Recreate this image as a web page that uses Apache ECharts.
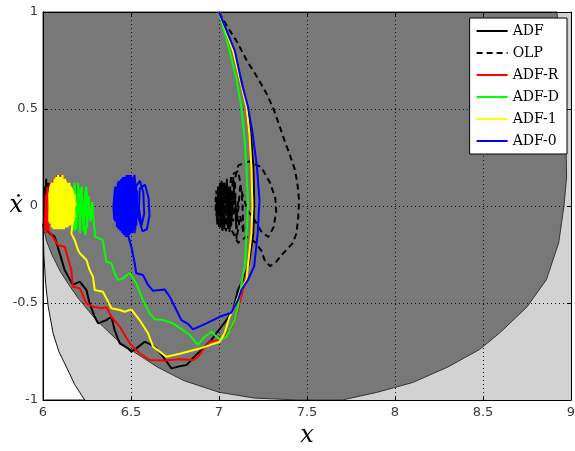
<!DOCTYPE html>
<html>
<head>
<meta charset="utf-8">
<script src="https://cdn.jsdelivr.net/npm/echarts@6/dist/echarts.min.js"></script>
<style>
  html, body { margin: 0; padding: 0; background: #fff; }
  #chart { width: 575px; height: 451px; }
</style>
</head>
<body>
<div id="chart"></div>
<script>
// axis ticks
var xTicks = [6, 6.5, 7, 7.5, 8, 8.5, 9];
var yTicks = [-1, -0.5, 0, 0.5, 1];
var seriesNames = ['ADF', 'OLP', 'ADF-R', 'ADF-D', 'ADF-1', 'ADF-0'];

// shaded regions (boundaries)
var regionDark = [[6.0,1.0],[6.0,-0.10],[6.02,-0.18],[6.05,-0.25],[6.1,-0.34],[6.15,-0.41],[6.2,-0.475],
  [6.3,-0.585],[6.42,-0.69],[6.5,-0.742],[6.65,-0.83],[6.8,-0.90],[7.0,-0.96],[7.2,-0.99],[7.45,-1.0],
  [7.7,-1.0],[7.9,-0.96],[8.1,-0.91],[8.3,-0.83],[8.48,-0.74],[8.6,-0.65],[8.75,-0.52],[8.86,-0.38],
  [8.93,-0.19],[8.96,0.0],[8.975,0.15],[8.97,0.4],[8.95,0.7],[8.92,1.0]];
var regionWhite = [[6.0,-0.09],[6.005,-0.25],[6.015,-0.4],[6.03,-0.52],[6.057,-0.655],[6.09,-0.75],
  [6.133,-0.83],[6.18,-0.92],[6.237,-1.0],[6.0,-1.0]];

// trajectories
var adf = [[7.0,1.0],[7.085,0.80],[7.13,0.63],[7.16,0.51],[7.18,0.38],[7.195,0.20],[7.2,0.03],[7.195,-0.14],
  [7.17,-0.30],[7.136,-0.381],[7.108,-0.433],[7.08,-0.536],[7.042,-0.588],[6.985,-0.656],[6.957,-0.69],
  [6.909,-0.734],[6.852,-0.785],[6.815,-0.82],[6.767,-0.828],[6.73,-0.837],[6.682,-0.777],[6.644,-0.734],
  [6.606,-0.711],[6.578,-0.70],[6.53,-0.734],[6.502,-0.751],[6.483,-0.734],[6.436,-0.708],[6.407,-0.64],
  [6.389,-0.571],[6.36,-0.588],[6.313,-0.605],[6.294,-0.571],[6.265,-0.502],[6.247,-0.433],[6.209,-0.39],
  [6.17,-0.407],[6.123,-0.33],[6.095,-0.244],[6.066,-0.158],[6.038,-0.141],[6.01,-0.115],
  [6.005,0.05],[6.012,-0.08],[6.018,0.14],[6.024,-0.06],[6.03,0.12],[6.02,-0.1],[6.008,0.1],[6.015,-0.03]];

var olp = [[7.0,1.0],[7.05,0.92],[7.1,0.85],[7.156,0.753],[7.22,0.66],[7.27,0.58],[7.31,0.50],[7.345,0.41],
  [7.375,0.33],[7.40,0.27],[7.43,0.19],[7.445,0.12],[7.455,0.03],[7.45,-0.06],[7.44,-0.14],[7.42,-0.19],
  [7.39,-0.22],[7.364,-0.244],[7.326,-0.287],[7.29,-0.31],[7.26,-0.28],[7.24,-0.23],[7.21,-0.19],
  [7.156,-0.158],[7.108,-0.19],[7.07,-0.12],[7.06,0.0],[7.08,0.1],[7.11,0.21],[7.17,0.23],[7.24,0.2],
  [7.29,0.12],[7.32,0.04],[7.325,-0.03],[7.31,-0.11],[7.28,-0.16],[7.24,-0.13],[7.2,-0.07],
  [7.16,-0.02],[7.12,0.1],[7.1,-0.12],[7.08,0.15],[7.06,-0.1],[7.04,0.12],[7.02,-0.09],[7.0,0.1],
  [6.985,-0.05],[6.98,0.04],[6.99,-0.08],[7.0,0.07],[7.01,-0.1],[7.02,0.09],[7.03,-0.11],[7.04,0.08],
  [7.05,-0.12],[7.06,0.1],[7.07,-0.08],[7.09,0.13],[7.1,-0.17],[7.12,-0.05],[7.14,-0.14],[7.13,0.06],
  [7.11,0.18],[7.07,0.16],[7.05,-0.06],[7.03,0.13],[7.015,-0.05],[6.995,0.06],[6.99,-0.02],[7.01,0.04],
  [7.03,-0.04],[7.05,0.05],[7.07,0.0],
  [6.98,-0.02],[6.985,0.08],[6.99,-0.1],[6.995,0.1],[7.0,-0.11],[7.005,0.12],[7.01,-0.12],[7.015,0.13],
  [7.02,-0.13],[7.025,0.12],[7.03,-0.12],[7.035,0.11],[7.04,-0.13],[7.045,0.14],[7.05,-0.1],[7.055,0.1],
  [7.06,-0.14],[7.065,0.08],[7.07,-0.1],[7.075,0.06],[7.08,-0.08],[7.09,0.05],[7.1,-0.06],[7.11,0.03]];

var adfR = [[7.0,1.0],[7.08,0.80],[7.125,0.63],[7.156,0.51],[7.172,0.38],[7.184,0.20],[7.19,0.0],[7.184,-0.14],
  [7.165,-0.30],[7.14,-0.42],[7.1,-0.56],[7.07,-0.63],[7.014,-0.687],[6.947,-0.70],[6.909,-0.742],
  [6.881,-0.777],[6.852,-0.794],[6.777,-0.79],[6.701,-0.797],[6.606,-0.794],[6.549,-0.759],[6.493,-0.708],
  [6.436,-0.622],[6.389,-0.571],[6.36,-0.522],[6.332,-0.527],[6.284,-0.519],[6.247,-0.502],[6.209,-0.424],
  [6.17,-0.416],[6.161,-0.33],[6.123,-0.21],[6.085,-0.201],[6.019,-0.107],
  [6.01,-0.12],[6.015,0.06],[6.02,-0.14],[6.025,0.1],[6.03,-0.12],[6.04,0.12],[6.05,-0.1],[6.06,0.14],
  [6.07,-0.06],[6.08,0.16],[6.09,0.0],[6.10,0.16],[6.11,0.02],[6.095,0.13],[6.06,-0.1],[6.03,0.09],
  [6.02,-0.1],[6.015,0.02]];

var adfD = [[7.0,1.0],[7.06,0.80],[7.10,0.65],[7.127,0.51],[7.145,0.35],[7.156,0.20],[7.165,0.0],[7.156,-0.15],
  [7.146,-0.31],[7.127,-0.40],[7.108,-0.519],[7.089,-0.588],[7.042,-0.674],[7.004,-0.69],[6.957,-0.648],
  [6.919,-0.674],[6.88,-0.716],[6.834,-0.665],[6.795,-0.64],[6.739,-0.605],[6.682,-0.588],[6.635,-0.584],
  [6.606,-0.553],[6.568,-0.485],[6.53,-0.399],[6.493,-0.344],[6.455,-0.373],[6.426,-0.381],[6.407,-0.347],
  [6.389,-0.295],[6.36,-0.287],[6.35,-0.235],[6.34,-0.175],[6.294,-0.158],[6.294,-0.124],
  [6.29,-0.10],[6.28,0.02],[6.27,-0.08],[6.26,0.05],[6.25,-0.11],[6.24,0.08],[6.23,-0.13],[6.22,0.10],
  [6.21,-0.14],[6.20,0.12],[6.19,-0.12],[6.18,0.12],[6.16,-0.10],[6.14,0.11],[6.12,-0.08],[6.15,0.06],
  [6.18,-0.13],[6.21,0.09],[6.24,-0.15],[6.26,-0.02],[6.245,0.1],[6.23,-0.06]];

var adf1 = [[7.0,1.0],[7.08,0.80],[7.125,0.63],[7.156,0.51],[7.172,0.38],[7.184,0.20],[7.19,0.0],[7.184,-0.14],
  [7.165,-0.30],[7.156,-0.38],[7.117,-0.45],[7.089,-0.519],[7.06,-0.571],[7.032,-0.656],[7.004,-0.70],
  [6.89,-0.735],[6.777,-0.762],[6.701,-0.777],[6.625,-0.725],[6.597,-0.656],[6.549,-0.588],[6.502,-0.533],
  [6.464,-0.545],[6.436,-0.536],[6.389,-0.527],[6.36,-0.476],[6.34,-0.442],[6.294,-0.433],[6.284,-0.364],
  [6.265,-0.33],[6.247,-0.278],[6.209,-0.244],[6.199,-0.227],[6.18,-0.175],[6.161,-0.141],
  [6.17,-0.08],[6.18,0.06],[6.175,-0.08],[6.165,0.09],[6.155,-0.10],[6.145,0.11],[6.135,-0.11],
  [6.125,0.13],[6.115,-0.12],[6.105,0.14],[6.095,-0.12],[6.085,0.15],[6.075,-0.12],[6.065,0.13],
  [6.055,-0.11],[6.045,0.08],[6.035,-0.08],[6.04,0.10],[6.06,-0.11],[6.08,0.13],[6.10,-0.12],[6.12,0.14],
  [6.14,-0.11],[6.16,0.10],[6.18,-0.06],[6.17,0.08],[6.16,-0.09],[6.15,0.12],[6.14,-0.10],[6.13,0.13],
  [6.12,-0.12],[6.11,0.16],[6.10,-0.11],[6.09,0.15],[6.08,-0.12],[6.07,0.14],[6.06,-0.10],[6.05,0.12],
  [6.035,0.06],[6.04,-0.09],[6.045,0.11],[6.05,-0.11],[6.055,0.12],[6.06,-0.12],[6.065,0.14],[6.07,-0.12],
  [6.075,0.15],[6.08,-0.12],[6.085,0.16],[6.09,-0.12],[6.095,0.15],[6.10,-0.12],[6.105,0.15],[6.11,-0.12],
  [6.115,0.14],[6.12,-0.11],[6.125,0.14],[6.13,-0.11],[6.135,0.12],[6.14,-0.1],[6.145,0.12],[6.15,-0.1],
  [6.155,0.1],[6.16,-0.08],[6.165,0.08],[6.17,-0.06],[6.175,0.05],[6.185,0.0]];

var adf0 = [[7.0,1.0],[7.09,0.80],[7.13,0.63],[7.165,0.51],[7.19,0.38],[7.216,0.20],[7.23,0.03],[7.22,-0.14],
  [7.2,-0.31],[7.165,-0.38],[7.127,-0.433],[7.108,-0.485],[7.07,-0.55],[7.004,-0.571],[6.928,-0.605],
  [6.852,-0.636],[6.824,-0.608],[6.786,-0.588],[6.758,-0.536],[6.72,-0.467],[6.691,-0.43],[6.625,-0.437],
  [6.597,-0.407],[6.568,-0.356],[6.53,-0.347],[6.521,-0.295],[6.502,-0.21],[6.483,-0.15],
  [6.49,-0.15],[6.50,0.14],[6.51,-0.13],[6.52,0.12],[6.53,-0.1],[6.535,0.08],[6.52,-0.14],[6.50,0.16],
  [6.48,-0.15],[6.47,0.15],[6.46,-0.13],[6.45,0.14],[6.44,-0.12],[6.43,0.13],[6.42,-0.10],[6.41,0.10],
  [6.40,0.0],[6.405,-0.07],[6.415,0.08],[6.425,-0.11],[6.435,0.12],[6.445,-0.13],[6.455,0.13],
  [6.465,-0.14],[6.475,0.15],[6.485,-0.15],[6.495,0.15],[6.505,-0.14],[6.515,0.13],[6.525,-0.12],
  [6.53,0.10],[6.55,0.13],[6.57,0.07],[6.575,-0.04],[6.56,-0.10],[6.545,-0.01],[6.55,0.09],[6.58,0.11],
  [6.60,0.04],[6.605,-0.05],[6.59,-0.12],[6.565,-0.13],[6.54,-0.05],[6.52,0.16],[6.5,0.1],
  [6.405,0.04],[6.41,-0.08],[6.415,0.10],[6.42,-0.11],[6.425,0.12],[6.43,-0.12],[6.435,0.13],[6.44,-0.13],
  [6.445,0.14],[6.45,-0.14],[6.455,0.15],[6.46,-0.15],[6.465,0.15],[6.47,-0.16],[6.475,0.16],[6.48,-0.16],
  [6.485,0.16],[6.49,-0.15],[6.495,0.16],[6.50,-0.14],[6.505,0.15],[6.51,-0.13],[6.515,0.14],[6.52,-0.12],
  [6.525,0.12],[6.53,-0.09],[6.535,0.06]];

var chart = echarts.init(document.getElementById('chart'));

// 区域多边形
function regionSeries(points, fill, stroke) {
    return {
        type: 'custom',
        silent: true,
        z: 1,
        data: [[6, 1]],
        renderItem: function (params, api) {
            return {
                type: 'polygon',
                shape: { points: points.map(function (p) { return api.coord(p); }) },
                style: { fill: fill, stroke: stroke, lineWidth: 1 }
            };
        }
    };
}

function lineSeries(name, data, color, dashed) {
    return {
        name: name,
        type: 'line',
        data: data,
        z: 3,
        symbol: 'none',
        showSymbol: false,
        clip: true,
        lineStyle: { color: color, width: 2, type: dashed ? [6, 4] : 'solid' },
        itemStyle: { color: color }
    };
}

var tickStyle = { inside: true, length: 4, lineStyle: { color: '#000' } };
var lineAxis = { onZero: false, lineStyle: { color: '#000', width: 1 } };
var gridDots = { show: true, lineStyle: { color: '#111', width: 1, type: [1, 3] } };
var labelStyle = { color: '#3a3a3a', fontSize: 13, fontFamily: 'DejaVu Sans' };
var nameStyle = { fontFamily: 'DejaVu Serif', fontStyle: 'italic', fontSize: 24, color: '#000' };

var option = {
    animation: false,
    grid: {
        left: 43, right: 4, top: 12, bottom: 51,
        containLabel: false, outerBoundsMode: 'none',
        show: true, backgroundColor: '#d2d2d2', borderWidth: 0
    },
    legend: {
        data: seriesNames,
        orient: 'vertical',
        right: 8,
        top: 18,
        backgroundColor: '#fff',
        borderColor: '#000',
        borderWidth: 1,
        borderRadius: 0,
        padding: [6, 8, 6, 6],
        itemWidth: 31,
        itemHeight: 14,
        itemGap: 8,
        itemStyle: { opacity: 0 },
        textStyle: { fontFamily: 'DejaVu Serif', fontSize: 14, color: '#000' }
    },
    xAxis: [{
        type: 'value', min: xTicks[0], max: xTicks[xTicks.length - 1], interval: 0.5, position: 'bottom', z: 2,
        axisLine: lineAxis, axisTick: tickStyle, axisLabel: Object.assign({ margin: 6 }, labelStyle),
        splitLine: gridDots,
        name: 'x', nameLocation: 'middle', nameGap: 24, nameMoveOverlap: false,
        nameTextStyle: nameStyle
    }, {
        type: 'value', min: xTicks[0], max: xTicks[xTicks.length - 1], interval: 0.5, position: 'top', z: 2,
        axisLine: lineAxis, axisTick: tickStyle, axisLabel: { show: false }, splitLine: { show: false }
    }],
    yAxis: [{
        type: 'value', min: yTicks[0], max: yTicks[yTicks.length - 1], interval: 0.5, position: 'left', z: 2,
        axisLine: lineAxis, axisTick: tickStyle, axisLabel: Object.assign({ margin: 5 }, labelStyle),
        splitLine: gridDots,
        name: 'ẋ', nameLocation: 'middle', nameGap: 20, nameRotate: 0, nameMoveOverlap: false,
        nameTextStyle: nameStyle
    }, {
        type: 'value', min: yTicks[0], max: yTicks[yTicks.length - 1], interval: 0.5, position: 'right', z: 2,
        axisLine: lineAxis, axisTick: tickStyle, axisLabel: { show: false }, splitLine: { show: false }
    }],
    series: [
        regionSeries(regionDark, '#787878', '#333'),
        regionSeries(regionWhite, '#ffffff', '#111'),
        lineSeries('ADF', adf, '#000000', false),
        lineSeries('OLP', olp, '#000000', true),
        lineSeries('ADF-R', adfR, '#ff0000', false),
        lineSeries('ADF-D', adfD, '#00ff00', false),
        lineSeries('ADF-1', adf1, '#ffff00', false),
        lineSeries('ADF-0', adf0, '#0000ff', false)
    ]
};

chart.setOption(option);
</script>
</body>
</html>
